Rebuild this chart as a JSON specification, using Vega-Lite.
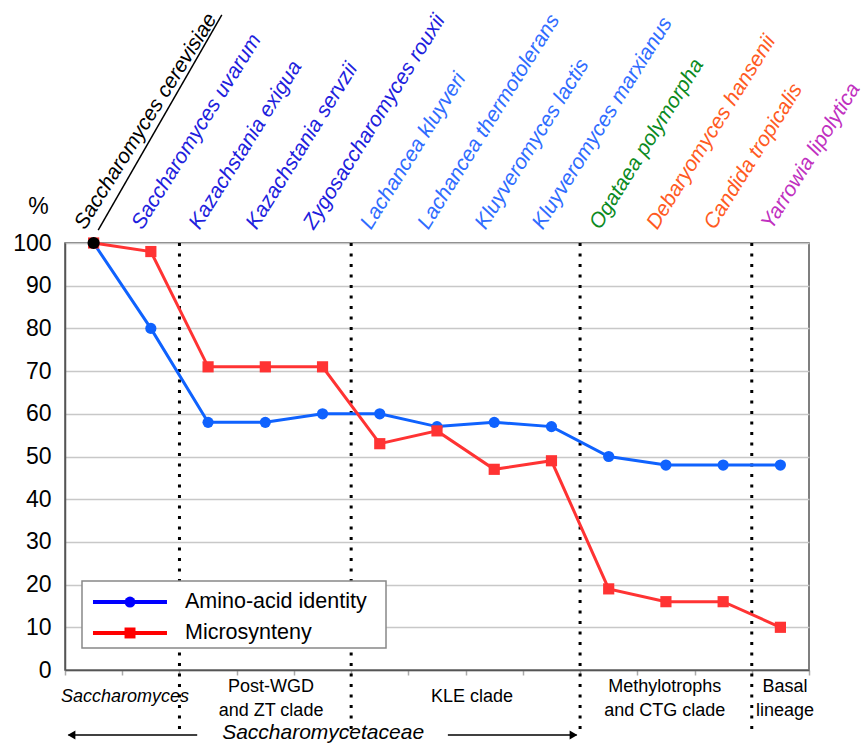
{
  "$schema": "https://vega.github.io/schema/vega-lite/v6.json",
  "width": 744,
  "height": 427,
  "autosize": {"type": "none"},
  "padding": {"left": 65, "top": 243, "right": 54, "bottom": 73},
  "background": "white",
  "config": {"font": "Liberation Sans", "view": {"stroke": "#555", "strokeWidth": 1.5}},
  "datasets": {
    "species": [
      {"idx": 1, "name": "Saccharomyces cerevisiae", "group": "reference", "Amino-acid identity": 100, "Microsynteny": 100},
      {"idx": 2, "name": "Saccharomyces uvarum", "group": "post-WGD", "Amino-acid identity": 80, "Microsynteny": 98},
      {"idx": 3, "name": "Kazachstania exigua", "group": "post-WGD", "Amino-acid identity": 58, "Microsynteny": 71},
      {"idx": 4, "name": "Kazachstania servzii", "group": "post-WGD", "Amino-acid identity": 58, "Microsynteny": 71},
      {"idx": 5, "name": "Zygosaccharomyces rouxii", "group": "post-WGD", "Amino-acid identity": 60, "Microsynteny": 71},
      {"idx": 6, "name": "Lachancea kluyveri", "group": "KLE", "Amino-acid identity": 60, "Microsynteny": 53},
      {"idx": 7, "name": "Lachancea thermotolerans", "group": "KLE", "Amino-acid identity": 57, "Microsynteny": 56},
      {"idx": 8, "name": "Kluyveromyces lactis", "group": "KLE", "Amino-acid identity": 58, "Microsynteny": 47},
      {"idx": 9, "name": "Kluyveromyces marxianus", "group": "KLE", "Amino-acid identity": 57, "Microsynteny": 49},
      {"idx": 10, "name": "Ogataea polymorpha", "group": "methylotroph", "Amino-acid identity": 50, "Microsynteny": 19},
      {"idx": 11, "name": "Debaryomyces hansenii", "group": "CTG", "Amino-acid identity": 48, "Microsynteny": 16},
      {"idx": 12, "name": "Candida tropicalis", "group": "CTG", "Amino-acid identity": 48, "Microsynteny": 16},
      {"idx": 13, "name": "Yarrowia lipolytica", "group": "basal", "Amino-acid identity": 48, "Microsynteny": 10}
    ],
    "boundaries": [{"pos": 2.5}, {"pos": 5.5}, {"pos": 9.5}, {"pos": 12.5}],
    "clades": [
      {"label": ["Post-WGD", "and ZT clade"], "pos": 4.1},
      {"label": ["Methylotrophs", "and CTG clade"], "pos": 10.98},
      {"label": ["Basal", "lineage"], "pos": 13.08}
    ],
    "arrows": [{"x1": 0.56, "x2": 2.81}, {"x1": 7.19, "x2": 9.44}],
    "heads": [{"pos": 0.614, "dir": "left"}, {"pos": 9.385, "dir": "right"}],
    "legend": [
      {"series": "Amino-acid identity", "ly": 15.92},
      {"series": "Microsynteny", "ly": 8.67}
    ]
  },
  "resolve": {"scale": {"color": "independent", "shape": "independent"}},
  "layer": [
    {
      "data": {"name": "boundaries"},
      "mark": {"type": "rule", "strokeDash": [3, 7.5], "strokeWidth": 3, "color": "black"},
      "encoding": {
        "x": {"field": "pos", "type": "quantitative", "scale": {"domain": [0.5, 13.5]},
          "axis": {"values": [0.5, 1.5, 2.5, 3.5, 4.5, 5.5, 6.5, 7.5, 8.5, 9.5, 10.5, 11.5, 12.5, 13.5], "labels": false, "tickSize": 5, "tickColor": "#aaa", "tickWidth": 1.5, "domainColor": "#555", "domainWidth": 1.5, "grid": false, "title": null}},
        "y": {"datum": 100, "type": "quantitative", "scale": {"domain": [0, 100]},
          "axis": {"values": [0, 10, 20, 30, 40, 50, 60, 70, 80, 90, 100], "labelFontSize": 23, "labelColor": "black", "labelPadding": 14, "ticks": false, "tickSize": 0, "grid": true, "gridColor": "#c8c8c8", "gridWidth": 1.5, "domainColor": "#555", "domainWidth": 1.5, "title": "%", "titleAngle": 0, "titleX": -27, "titleY": -37, "titleAlign": "center", "titleBaseline": "middle", "titleFontSize": 23, "titleFontWeight": "normal", "titleColor": "black"}},
        "y2": {"datum": -14}
      }
    },
    {
      "data": {"name": "species"},
      "transform": [{"fold": ["Amino-acid identity", "Microsynteny"], "as": ["series", "value"]}],
      "mark": {"type": "line", "strokeWidth": 3},
      "encoding": {
        "x": {"field": "idx", "type": "quantitative", "scale": {"domain": [0.5, 13.5]}},
        "y": {"field": "value", "type": "quantitative", "scale": {"domain": [0, 100]}},
        "color": {"field": "series", "type": "nominal", "scale": {"domain": ["Amino-acid identity", "Microsynteny"], "range": ["#0f62fe", "#ff3333"]}, "legend": null}
      }
    },
    {
      "data": {"name": "species"},
      "transform": [{"fold": ["Amino-acid identity", "Microsynteny"], "as": ["series", "value"]}],
      "mark": {"type": "point", "filled": true, "opacity": 1, "size": 125},
      "encoding": {
        "x": {"field": "idx", "type": "quantitative", "scale": {"domain": [0.5, 13.5]}},
        "y": {"field": "value", "type": "quantitative", "scale": {"domain": [0, 100]}},
        "color": {"field": "series", "type": "nominal", "scale": {"domain": ["Amino-acid identity", "Microsynteny"], "range": ["#0f62fe", "#ff3333"]}, "legend": null},
        "shape": {"field": "series", "type": "nominal", "scale": {"domain": ["Amino-acid identity", "Microsynteny"], "range": ["circle", "square"]}, "legend": null}
      }
    },
    {
      "data": {"name": "species"},
      "transform": [{"filter": "datum.idx == 1"}],
      "mark": {"type": "point", "filled": true, "opacity": 1, "size": 150, "color": "black", "shape": "circle"},
      "encoding": {
        "x": {"field": "idx", "type": "quantitative", "scale": {"domain": [0.5, 13.5]}},
        "y": {"field": "Amino-acid identity", "type": "quantitative", "scale": {"domain": [0, 100]}}
      }
    },
    {
      "data": {"name": "species"},
      "mark": {"type": "text", "angle": 302, "align": "left", "baseline": "alphabetic", "dx": 6, "dy": -14, "fontSize": 21, "fontStyle": "italic"},
      "encoding": {
        "x": {"field": "idx", "type": "quantitative", "scale": {"domain": [0.5, 13.5]}},
        "y": {"datum": 100, "type": "quantitative", "scale": {"domain": [0, 100]}},
        "text": {"field": "name", "type": "nominal"},
        "color": {"field": "group", "type": "nominal", "scale": {"domain": ["reference", "post-WGD", "KLE", "methylotroph", "CTG", "basal"], "range": ["#000000", "#2020dd", "#2f6cff", "#0b8a22", "#ff5a22", "#c030c0"]}, "legend": null}
      }
    },
    {
      "data": {"values": [{}]},
      "mark": {"type": "rule", "color": "black", "strokeWidth": 1.5},
      "encoding": {
        "x": {"datum": 1.08, "type": "quantitative", "scale": {"domain": [0.5, 13.5]}},
        "x2": {"datum": 3.24},
        "y": {"datum": 103, "type": "quantitative", "scale": {"domain": [0, 100]}},
        "y2": {"datum": 153.4}
      }
    },
    {
      "data": {"name": "clades"},
      "mark": {"type": "text", "fontSize": 18, "align": "center", "baseline": "middle", "lineHeight": 24.5, "color": "black"},
      "encoding": {
        "x": {"field": "pos", "type": "quantitative", "scale": {"domain": [0.5, 13.5]}},
        "y": {"datum": -3.95, "type": "quantitative", "scale": {"domain": [0, 100]}},
        "text": {"field": "label", "type": "nominal"}
      }
    },
    {
      "data": {"values": [{"label": "KLE clade"}]},
      "mark": {"type": "text", "fontSize": 18, "align": "center", "baseline": "middle", "color": "black"},
      "encoding": {
        "x": {"datum": 7.61, "type": "quantitative", "scale": {"domain": [0.5, 13.5]}},
        "y": {"datum": -6.3, "type": "quantitative", "scale": {"domain": [0, 100]}},
        "text": {"field": "label", "type": "nominal"}
      }
    },
    {
      "data": {"values": [{"label": "Saccharomyces"}]},
      "mark": {"type": "text", "fontSize": 18, "fontStyle": "italic", "align": "center", "baseline": "middle", "color": "black"},
      "encoding": {
        "x": {"datum": 1.548, "type": "quantitative", "scale": {"domain": [0.5, 13.5]}},
        "y": {"datum": -6.3, "type": "quantitative", "scale": {"domain": [0, 100]}},
        "text": {"field": "label", "type": "nominal"}
      }
    },
    {
      "data": {"values": [{"label": "Saccharomycetaceae"}]},
      "mark": {"type": "text", "fontSize": 21, "fontStyle": "italic", "align": "center", "baseline": "middle", "color": "black"},
      "encoding": {
        "x": {"datum": 5.01, "type": "quantitative", "scale": {"domain": [0.5, 13.5]}},
        "y": {"datum": -14.7, "type": "quantitative", "scale": {"domain": [0, 100]}},
        "text": {"field": "label", "type": "nominal"}
      }
    },
    {
      "data": {"name": "arrows"},
      "mark": {"type": "rule", "color": "black", "strokeWidth": 1.5},
      "encoding": {
        "x": {"field": "x1", "type": "quantitative", "scale": {"domain": [0.5, 13.5]}},
        "x2": {"field": "x2"},
        "y": {"datum": -15.2, "type": "quantitative", "scale": {"domain": [0, 100]}}
      }
    },
    {
      "data": {"name": "heads"},
      "mark": {"type": "point", "filled": true, "opacity": 1, "size": 80, "color": "black"},
      "encoding": {
        "x": {"field": "pos", "type": "quantitative", "scale": {"domain": [0.5, 13.5]}},
        "y": {"datum": -15.2, "type": "quantitative", "scale": {"domain": [0, 100]}},
        "shape": {"field": "dir", "type": "nominal", "scale": {"domain": ["left", "right"], "range": ["triangle-left", "triangle-right"]}, "legend": null}
      }
    },
    {
      "data": {"values": [{}]},
      "mark": {"type": "rect", "fill": "white", "stroke": "#888", "strokeWidth": 1.5},
      "encoding": {
        "x": {"datum": 0.797, "type": "quantitative", "scale": {"domain": [0.5, 13.5]}},
        "x2": {"datum": 6.109},
        "y": {"datum": 20.84, "type": "quantitative", "scale": {"domain": [0, 100]}},
        "y2": {"datum": 5.15}
      }
    },
    {
      "data": {"name": "legend"},
      "mark": {"type": "rule", "strokeWidth": 4},
      "encoding": {
        "x": {"datum": 0.989, "type": "quantitative", "scale": {"domain": [0.5, 13.5]}},
        "x2": {"datum": 2.282},
        "y": {"field": "ly", "type": "quantitative", "scale": {"domain": [0, 100]}},
        "color": {"field": "series", "type": "nominal", "scale": {"domain": ["Amino-acid identity", "Microsynteny"], "range": ["#0000ff", "#ff0000"]}, "legend": null}
      }
    },
    {
      "data": {"name": "legend"},
      "mark": {"type": "point", "filled": true, "opacity": 1, "size": 120},
      "encoding": {
        "x": {"datum": 1.636, "type": "quantitative", "scale": {"domain": [0.5, 13.5]}},
        "y": {"field": "ly", "type": "quantitative", "scale": {"domain": [0, 100]}},
        "color": {"field": "series", "type": "nominal", "scale": {"domain": ["Amino-acid identity", "Microsynteny"], "range": ["#0000ff", "#ff0000"]}, "legend": null},
        "shape": {"field": "series", "type": "nominal", "scale": {"domain": ["Amino-acid identity", "Microsynteny"], "range": ["circle", "square"]}, "legend": null}
      }
    },
    {
      "data": {"name": "legend"},
      "mark": {"type": "text", "align": "left", "baseline": "middle", "fontSize": 21.5, "color": "black"},
      "encoding": {
        "x": {"datum": 2.597, "type": "quantitative", "scale": {"domain": [0.5, 13.5]}},
        "y": {"field": "ly", "type": "quantitative", "scale": {"domain": [0, 100]}},
        "text": {"field": "series", "type": "nominal"}
      }
    }
  ]
}
